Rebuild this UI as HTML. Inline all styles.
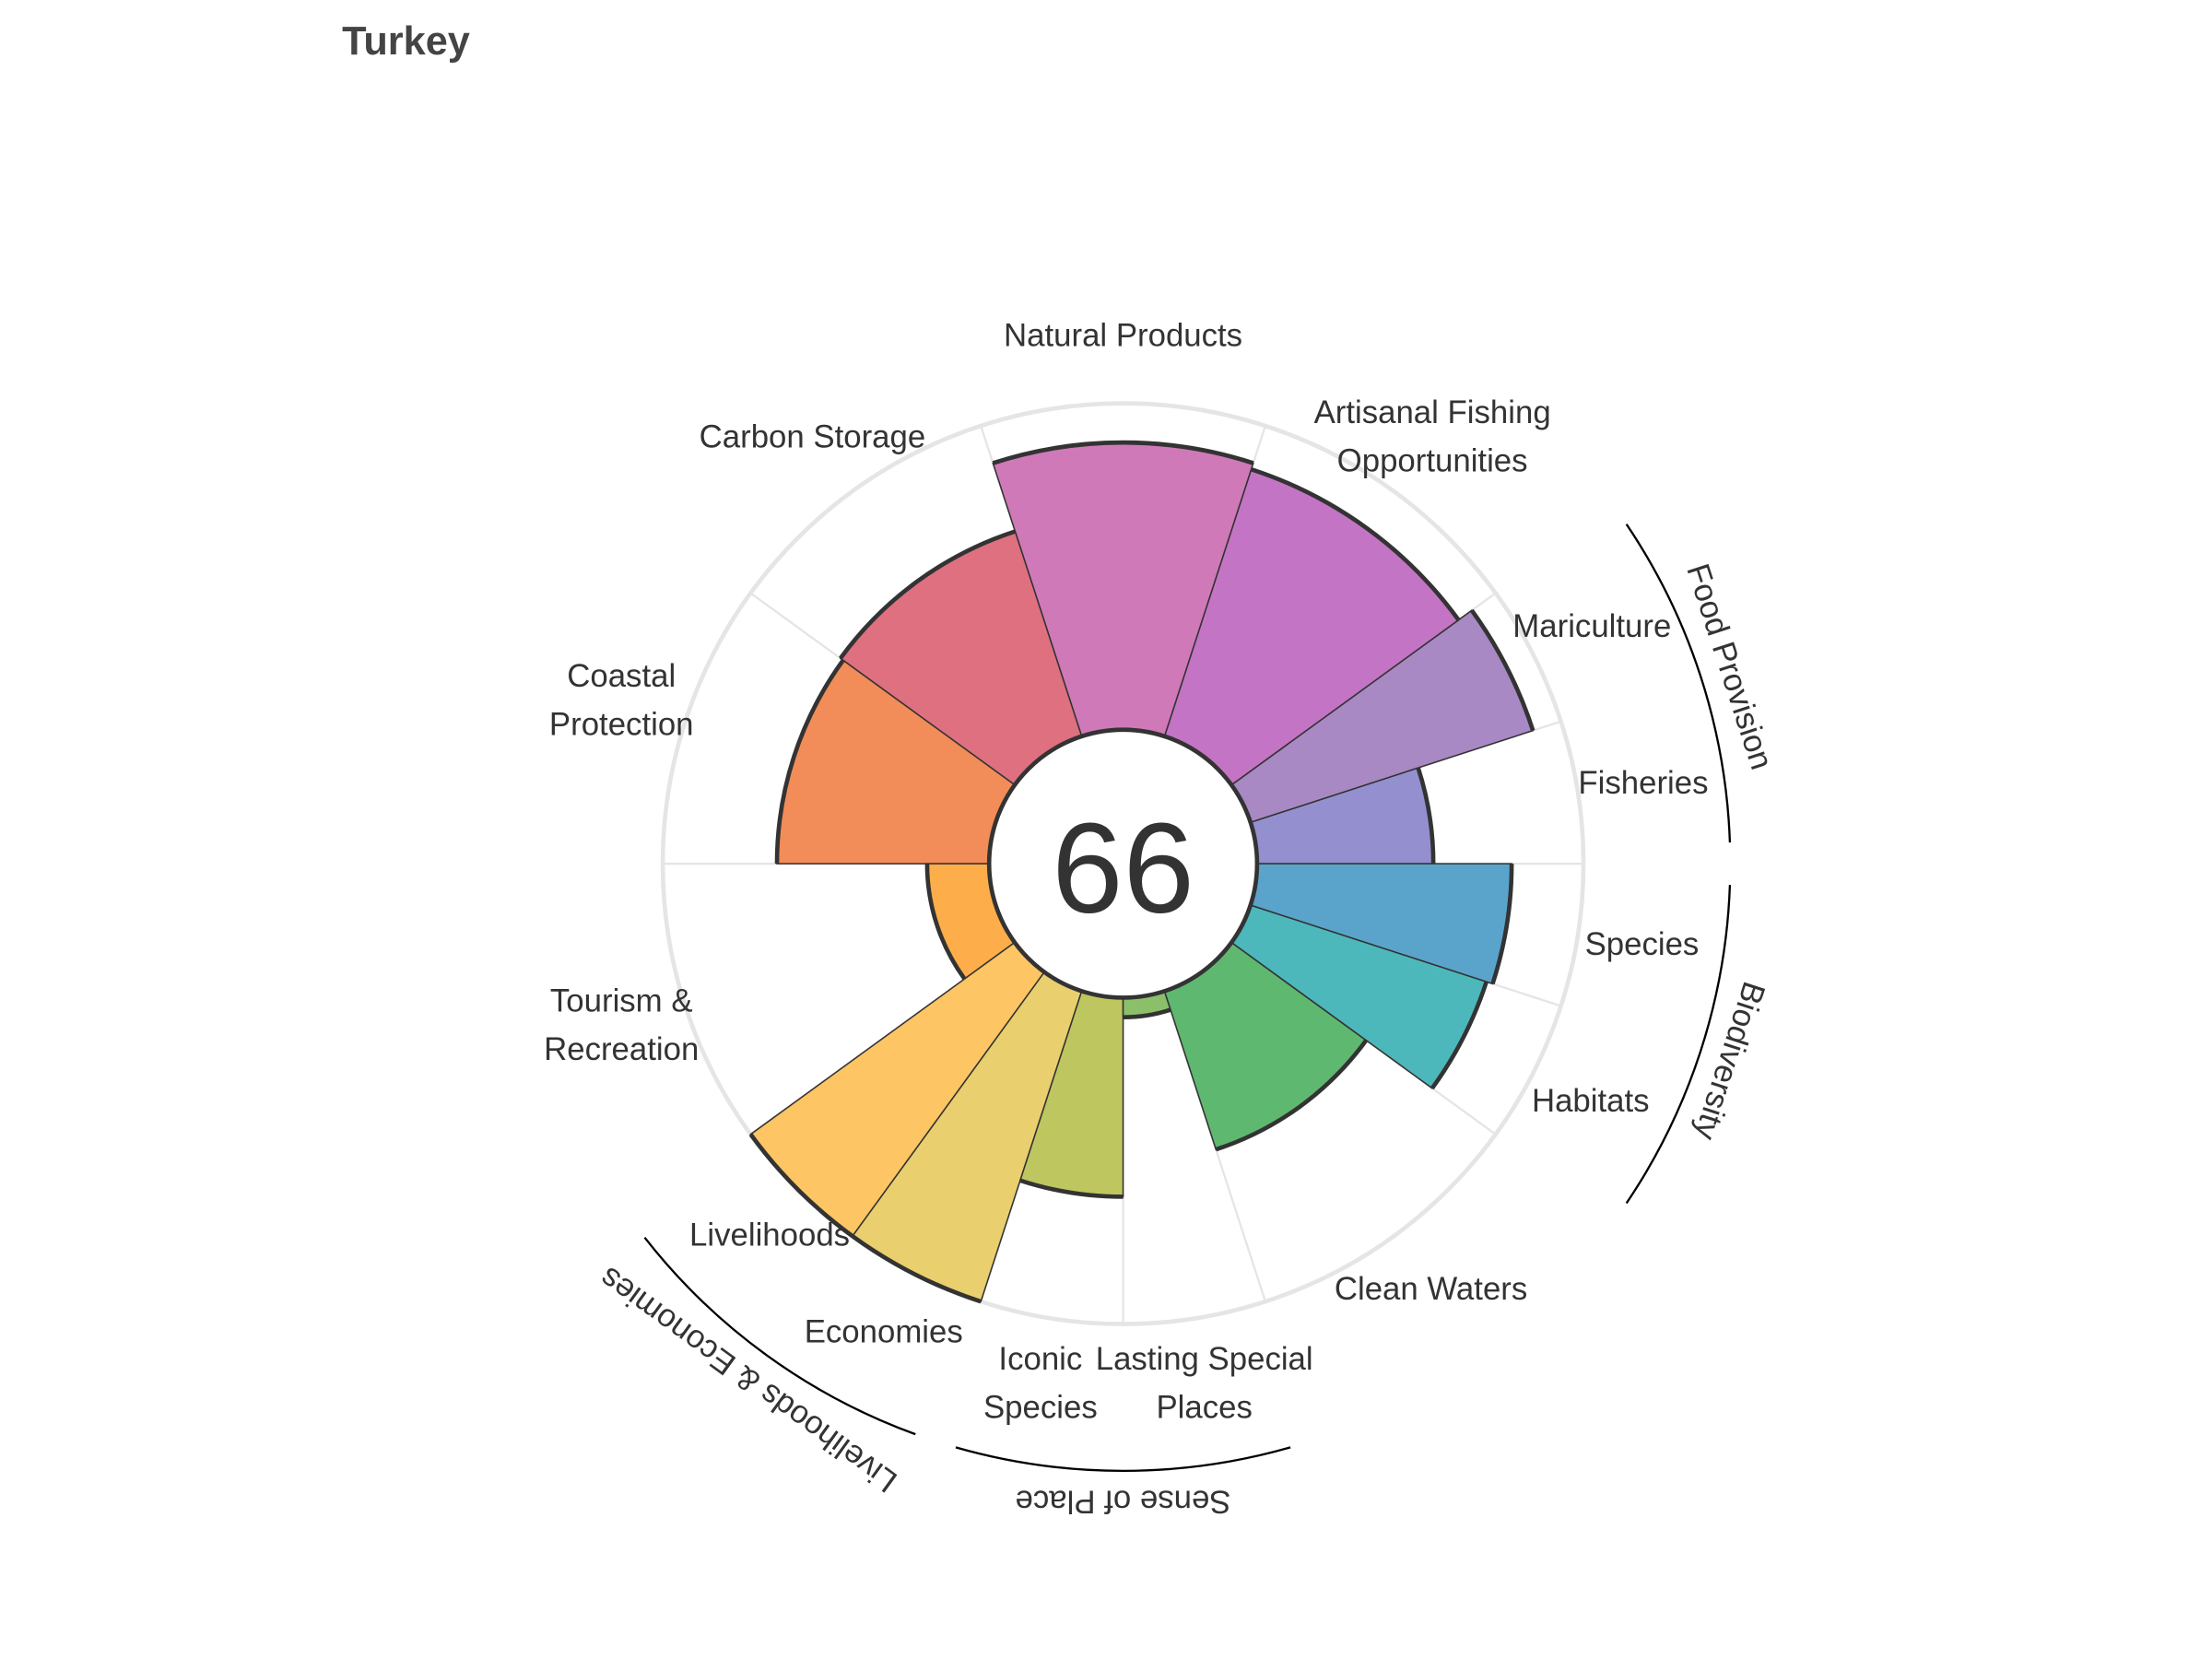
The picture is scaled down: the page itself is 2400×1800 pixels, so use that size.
<!DOCTYPE html>
<html><head><meta charset="utf-8"><style>html,body{margin:0;padding:0;background:#fff}svg{display:block}text{font-family:"Liberation Sans",sans-serif}</style></head>
<body>
<svg id="chart" width="2400" height="1800" viewBox="0 0 1552 1164" xmlns="http://www.w3.org/2000/svg">
<text x="240" y="38" font-size="28" font-weight="bold" fill="#444">Turkey</text>
<g id="grid"></g><g id="bars"></g><g id="labels"></g><g id="groups"></g>
<circle cx="788" cy="606" r="94" fill="#fff" stroke="#333" stroke-width="3"/>
<text x="788" y="640" font-size="90" text-anchor="middle" fill="#333">66</text>
</svg>
<script>
const categories=["Fisheries","Mariculture","Artisanal Fishing|Opportunities","Natural Products","Carbon Storage","Coastal|Protection","Tourism &|Recreation","Livelihoods","Economies","Iconic|Species","Lasting Special|Places","Clean Waters","Habitats","Species"];
const values=[54,91,86,88,66,65,19,100,100,61,6,51,76,78];
const widths=[18,18,36,36,36,36,36,18,18,18,18,36,18,18];
const colors=["#9490cf","#a889c4","#c474c4","#d079b8","#de707f","#f28c58","#fdae4a","#fdc563","#e9cf6e","#bec660","#8cbf6a","#5fb870","#4db8bc","#5aa4cc"];
const groupNames=["Food Provision","Livelihoods & Economies","Sense of Place","Biodiversity"];
const groupSpans=[[324,360],[108,144],[72,108],[0,36]];
const labelPos=[[1153,551],[1117,441],[1005,291],[788,237],[570,308],[436,476],[436,704],[540,868],[620,936],[730,955],[845,955],[1004,906],[1116,774],[1152,664]];
const CX=788,CY=606,R0=94,R1=323,NS="http://www.w3.org/2000/svg";
const rad=v=>R0+v/100*(R1-R0);
const pt=(r,a)=>[CX+r*Math.cos(a*Math.PI/180),CY+r*Math.sin(a*Math.PI/180)];
function mk(tag,attrs,parent){const e=document.createElementNS(NS,tag);for(const k in attrs)e.setAttribute(k,attrs[k]);parent.appendChild(e);return e;}
const grid=document.getElementById('grid'),bars=document.getElementById('bars'),labels=document.getElementById('labels'),groups=document.getElementById('groups');
const oc=mk('circle',{cx:CX,cy:CY,r:R1,fill:'none',stroke:'#e5e5e5','stroke-width':3},grid);


let a=360;
categories.forEach((c,i)=>{
  const a1=a,a0=a-widths[i];a=a0;
  const [sx,sy]=pt(R0,a0),[ex,ey]=pt(R1,a0);
  const sp=mk('line',{x1:sx,y1:sy,x2:ex,y2:ey,stroke:'#e5e5e5','stroke-width':1.5},grid);
  
  
  const r=rad(values[i]);
  const p1=pt(R0,a0),p2=pt(r,a0),p3=pt(r,a1),p4=pt(R0,a1);
  const w=mk('path',{d:`M${p1}L${p2}A${r},${r} 0 0 1 ${p3}L${p4}Z`,fill:colors[i],stroke:'#333','stroke-width':1},bars);
  
  
  const arc=mk('path',{d:`M${p2}A${r},${r} 0 0 1 ${p3}`,fill:'none',stroke:'#333','stroke-width':3},bars);
  
  
  const lines=c.split('|');
  const t=mk('text',{x:labelPos[i][0],y:labelPos[i][1],'font-size':22.5,'text-anchor':'middle',fill:'#333','dominant-baseline':'middle'},labels);
  
  
  lines.forEach((l,j)=>{const ts=mk('tspan',{x:labelPos[i][0],dy:j?34:0},t);ts.textContent=l;});
});
groupNames.forEach((g,i)=>{
  const [s,e]=groupSpans[i],R=426;
  const p1=pt(R,s+2),p2=pt(R,e-2);
  const ar=mk('path',{d:`M${p1}A${R},${R} 0 0 1 ${p2}`,fill:'none',stroke:'#000','stroke-width':1.5},groups);
  
  
  const m=(s+e)/2,[tx,ty]=pt(446,m);
  const t=mk('text',{x:tx,y:ty,'font-size':22.5,'text-anchor':'middle','dominant-baseline':'middle',fill:'#333',transform:`rotate(${m+90} ${tx} ${ty})`},groups);
  t.textContent=g;
  
  
});
</script>
</body></html>
